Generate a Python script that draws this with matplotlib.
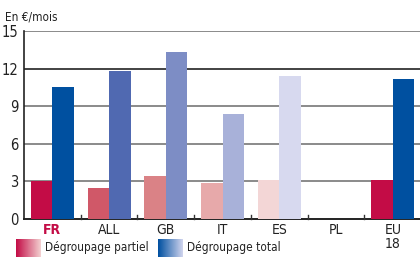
import numpy as np
import matplotlib
matplotlib.use('Agg')
import matplotlib.pyplot as plt
from matplotlib.colors import LinearSegmentedColormap

# data (EUR / month)
countries = ['FR', 'ALL', 'GB', 'IT', 'ES', 'PL', 'EU\n18']
partiel = [3.0, 2.5, 3.4, 2.9, 3.1, 0, 3.1]
total = [10.5, 11.8, 13.3, 8.4, 11.4, 0, 11.2]
yticks = [0, 3, 6, 9, 12, 15]

col_partiel = ['#c30c46', '#d05868', '#da8286', '#e7a9aa', '#f3d6d6', '#ffffff', '#c30c46']
col_total = ['#0050a0', '#5069b1', '#7d8dc5', '#a8b1d9', '#d7d9ef', '#ffffff', '#0050a0']

plt.rcParams['font.family'] = ['DejaVu Sans']
plt.rcParams['font.stretch'] = 'condensed'

fig = plt.figure(figsize=(4.2, 2.58), dpi=100)
ax = fig.add_axes([0.057, 0.151, 0.946, 0.729])

x = np.arange(len(countries))
w = 0.38
ax.bar(x - w / 2, partiel, w, color=col_partiel, zorder=3)
ax.bar(x + w / 2, total, w, color=col_total, zorder=3)

ax.set_xlim(-0.5, 6.5)
ax.set_ylim(0, 15)
ax.set_yticks(yticks)
ax.set_yticklabels([str(t) for t in yticks], fontsize=10.5, color='#222222')
for t in [3, 6, 9, 15]:
    ax.axhline(t, color='#8a8a8a', lw=1.4, zorder=1)
ax.axhline(12, color='#222222', lw=1.2, zorder=1)

ax.set_xticks(x)
ax.set_xticklabels(countries, fontsize=10, color='#222222', linespacing=1.0)
ax.tick_params(axis='x', length=0, pad=3)
ax.tick_params(axis='y', length=0, pad=4)
labs = ax.get_xticklabels()
labs[0].set_color('#c30c46')
labs[0].set_fontweight('bold')
# small separators on the baseline
for b in x[:-1] + 0.5:
    ax.plot([b, b], [0, 0.35], color='#333333', lw=1, zorder=4, clip_on=False)

for s in ['top', 'right']:
    ax.spines[s].set_visible(False)
ax.spines['left'].set_color('#222222')
ax.spines['bottom'].set_color('#222222')
ax.spines['left'].set_linewidth(1.2)
ax.spines['bottom'].set_linewidth(1.4)

fig.text(0.012, 0.935, 'En €/mois', fontsize=8.5, color='#222222', va='center')

# legend with gradient swatches
grad = np.linspace(0, 1, 64).reshape(1, -1)
cm_p = LinearSegmentedColormap.from_list('p', ['#c30c46', '#f3d0d0'])
cm_t = LinearSegmentedColormap.from_list('t', ['#0050a0', '#d0d4ee'])
for x0, cm, label in [(16, cm_p, 'Dégroupage partiel'), (158, cm_t, 'Dégroupage total')]:
    lax = fig.add_axes([x0 / 420, 1 - 257 / 258, 25 / 420, 18 / 258])
    lax.imshow(grad, aspect='auto', cmap=cm)
    lax.axis('off')
    fig.text((x0 + 29) / 420, 1 - 248 / 258, label, fontsize=8.5, color='#222222', va='center')

fig.savefig('out.png', dpi=100)
